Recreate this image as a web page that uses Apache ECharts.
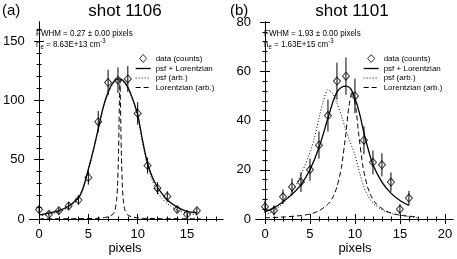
<!DOCTYPE html>
<html><head><meta charset="utf-8">
<script src="https://cdn.jsdelivr.net/npm/echarts@6/dist/echarts.min.js"></script>
<style>html,body{margin:0;padding:0;background:#fff}#c{width:457px;height:259px}</style>
</head><body><div id="c"></div>
<script>
// ---- panel (a) shot 1106 ----
const aX    = [0,1,2,3,4,5,6,7,8,9,10,11,12,13,14,15,16];
const aY    = [8,4,7,11,16,35,82,115,117,118,89,45,26,19,8,4,7];
const aErr  = [2.8,2,2.6,3.3,4,6,9,10.7,10.8,10.9,9.4,6.7,5.1,4.4,2.8,2,2.6];
const aFit  = [[0,3.5],[1,5],[2,7],[3,11],[4,18],[4.5,27],[5,42],[5.5,58],[6,76],[6.5,94],[7,107],[7.5,115],[8,118],[8.5,117],[9,111],[9.5,101],[10,88],[10.5,66],[11,47],[11.5,35],[12,27],[12.5,21],[13,16],[14,10],[15,6.5],[16,5.3]];
const aPsf  = [[0,2.5],[1,4],[2,6],[3,10],[4,17],[4.5,26],[5,41],[5.5,57],[6,75],[6.5,93],[7,106],[7.5,114],[8,117],[8.5,116],[9,110],[9.5,100],[10,86],[10.5,64],[11,45],[11.5,32],[12,23],[12.5,17],[13,13],[14,7.5],[15,5],[16,3.5]];
const aLor  = [[0,0.1],[4,0.3],[6,0.6],[7,1.8],[7.5,4],[7.7,7.5],[7.85,15],[7.95,27],[8.05,52],[8.1,75],[8.15,100],[8.2,117],[8.25,100],[8.3,75],[8.35,52],[8.45,27],[8.55,15],[8.7,7.5],[8.9,4],[9.4,1.8],[10.4,0.6],[12.4,0.3],[16.4,0.1]];
const aXTicks = [0,5,10,15];
const aXMinor = [0,1,2,3,4,5,6,7,8,9,10,11,12,13,14,15,16,17,18];
const aYTicks = [0,50,100,150];
const aYMinor = [0,10,20,30,40,50,60,70,80,90,100,110,120,130,140,150,160];

// ---- panel (b) shot 1101 ----
const bX    = [0,1,2,3,4,5,6,7,8,9,10,11,12,13,14,15,16];
const bY    = [5,3.5,9,13,15,20,30,42,56,58,50,32,23,22,15,4,8.5];
const bErr  = [2.5,2,3,3.5,4,4.5,5.5,6.5,7.5,7.6,7,5.7,4.8,4.7,3.9,2,2.9];
const bFit  = [[0,3],[1,4.5],[2,7],[3,10],[4,14],[5,20],[6,29],[7,41],[7.5,47],[8,51.5],[8.5,53.5],[9,54],[9.5,53],[10,49],[10.5,43],[11,35],[11.5,28],[12,22],[13,15],[14,10.5],[15,7.5],[16,5.5]];
const bPsf  = [[0,1.6],[1,3.4],[2,6.5],[3,11],[4,18],[5,27],[5.5,33],[6,41],[6.5,48],[7,52.5],[7.5,51],[8,47],[8.5,42],[9,36],[9.5,31],[10,26],[10.5,19],[11,13],[11.5,9],[12,6.5],[13,3.7],[14,2.3],[15,1.5],[16,1],[17,0.5]];
const bLor  = [[0,0.5],[2,0.8],[4,1.4],[5,2],[6,3.3],[7,6],[7.5,8.5],[8,13],[8.5,21],[9,35],[9.3,45],[9.7,52],[10.1,45],[10.4,35],[10.9,21],[11.4,13],[11.9,8.5],[12.4,6],[13.4,3.3],[14.4,2],[15.4,1.4],[17,0.8]];
const bXTicks = [0,5,10,15,20];
const bXMinor = [0,1,2,3,4,5,6,7,8,9,10,11,12,13,14,15,16,17,18,19,20];
const bYTicks = [0,20,40,60,80];
const bYMinor = [0,4,8,12,16,20,24,28,32,36,40,44,48,52,56,60,64,68,72,76,80];

const names = ['data (counts)','psf + Lorentzian','psf (arb.)','Lorentzian (arb.)'];
const FONT = 'Liberation Sans, Arial, sans-serif';
const K = '#000';
const NONE = 'rgba(0,0,0,0)';
const dashTypes = ['solid',[1,2],[5,3]];

function xAxes(g, min, max, major, minor){
  const base = {gridIndex:g, type:'value', min:min, max:max, splitLine:{show:false}};
  return [
    Object.assign({}, base, {position:'bottom', axisLine:{show:true,lineStyle:{color:K,width:1}},
      axisTick:{show:true,inside:true,length:5,customValues:major,lineStyle:{color:K}},
      axisLabel:{show:true,customValues:major,color:K,fontSize:13,fontFamily:FONT,margin:9}}),
    Object.assign({}, base, {position:'bottom', axisLine:{show:false},
      axisTick:{show:true,inside:true,length:2.5,customValues:minor,lineStyle:{color:K}}, axisLabel:{show:false}}),
    Object.assign({}, base, {position:'top', axisLine:{show:true,lineStyle:{color:K,width:1}},
      axisTick:{show:true,inside:true,length:5,customValues:major,lineStyle:{color:K}}, axisLabel:{show:false}}),
    Object.assign({}, base, {position:'top', axisLine:{show:false},
      axisTick:{show:true,inside:true,length:2.5,customValues:minor,lineStyle:{color:K}}, axisLabel:{show:false}})
  ];
}
function yAxes(g, min, max, major, minor){
  const base = {gridIndex:g, type:'value', min:min, max:max, splitLine:{show:false}};
  return [
    Object.assign({}, base, {position:'left', axisLine:{show:true,lineStyle:{color:K,width:1}},
      axisTick:{show:true,inside:true,length:5,customValues:major,lineStyle:{color:K}},
      axisLabel:{show:true,customValues:major,color:K,fontSize:13,fontFamily:FONT,margin:5}}),
    Object.assign({}, base, {position:'left', axisLine:{show:false},
      axisTick:{show:true,inside:true,length:2.5,customValues:minor,lineStyle:{color:K}}, axisLabel:{show:false}}),
    Object.assign({}, base, {position:'right', axisLine:{show:true,lineStyle:{color:K,width:1}},
      axisTick:{show:true,inside:true,length:5,customValues:major,lineStyle:{color:K}}, axisLabel:{show:false}}),
    Object.assign({}, base, {position:'right', axisLine:{show:false},
      axisTick:{show:true,inside:true,length:2.5,customValues:minor,lineStyle:{color:K}}, axisLabel:{show:false}})
  ];
}
function lineSeries(name, xi, data, width, type, smooth){
  return {type:'line', name:name, xAxisIndex:xi, yAxisIndex:xi, data:data, smooth:smooth, symbol:'none',
    color:K, itemStyle:{color:NONE, borderWidth:0},
    lineStyle:{color:K, width:width, type:type}, z:5};
}
function panelSeries(g, xs, ys, errs, fit, psf, lor){
  const xi = g*4;
  const pts = xs.map((x,i)=>[x, ys[i], errs[i]]);
  return [
    {type:'custom', name:'err'+g, xAxisIndex:xi, yAxisIndex:xi, data:pts, silent:true, z:3,
      renderItem:function(params, api){
        const x=api.value(0), y=api.value(1), e=api.value(2);
        const p1=api.coord([x,y-e]), p2=api.coord([x,y+e]);
        return {type:'line', shape:{x1:p1[0],y1:p1[1],x2:p2[0],y2:p2[1]}, style:{stroke:K,lineWidth:1}};
      }},
    {type:'scatter', name:names[0], xAxisIndex:xi, yAxisIndex:xi, data:pts.map(p=>[p[0],p[1]]),
      symbol:'diamond', symbolSize:[7,8], z:4, color:K,
      itemStyle:{color:NONE, borderColor:K, borderWidth:1}},
    lineSeries(names[1], xi, fit, 1.3, dashTypes[0], 0.3),
    lineSeries(names[2], xi, psf, 1, dashTypes[1], 0.3),
    lineSeries(names[3], xi, lor, 1, dashTypes[2], 0.2)
  ];
}
function legend(left){
  const lineItem = (i, w) => ({name:names[i], itemStyle:{color:NONE, borderWidth:0, borderColor:NONE},
    lineStyle:{color:K, width:w, type:dashTypes[i-1]}});
  return {left:left, top:54, orient:'vertical', itemWidth:15, itemHeight:8, itemGap:1.5,
    selectedMode:false, padding:0,
    textStyle:{fontSize:8, color:K, fontFamily:FONT, lineHeight:8},
    data:[{name:names[0], icon:'path://M0,-4L3.5,0L0,4L-3.5,0Z', itemStyle:{color:NONE,borderColor:K,borderWidth:1}},
          lineItem(1,1.3), lineItem(2,1), lineItem(3,1)]};
}
function txt(x,y,text,size,align,sy){
  return {type:'text', x:x, y:y, scaleY:sy||1, style:{text:text, fontSize:size, fontFamily:FONT, fill:K,
    align:align||'left', verticalAlign:'middle'}};
}
function neText(x,y,val){
  return {type:'text', x:x, y:y, scaleY:1.15, style:{
    text:'{m|n}{s|e}{m| = '+val+' cm}{p|-3}', fontFamily:FONT, fill:K, verticalAlign:'middle',
    rich:{m:{fontSize:8, lineHeight:11, fontFamily:FONT, fill:K},
          s:{fontSize:6, verticalAlign:'bottom', lineHeight:11, fontFamily:FONT, fill:K},
          p:{fontSize:6, verticalAlign:'top', lineHeight:11, fontFamily:FONT, fill:K}}}};
}

const chart = echarts.init(document.getElementById('c'), null, {renderer:'canvas'});
chart.setOption({
  animation:false,
  backgroundColor:'#fff',
  grid:[{left:27, top:22, width:196, height:197}, {left:256, top:22, width:197, height:197}],
  xAxis: xAxes(0,-0.95,18.65,aXTicks,aXMinor).concat(xAxes(1,-1,20.9,bXTicks,bXMinor)),
  yAxis: yAxes(0,0,166,aYTicks,aYMinor).concat(yAxes(1,0,80,bYTicks,bYMinor)),
  legend:[legend(135), legend(363)],
  series: panelSeries(0,aX,aY,aErr,aFit,aPsf,aLor).concat(panelSeries(1,bX,bY,bErr,bFit,bPsf,bLor)),
  graphic:[
    txt(2,11,'(a)',15), txt(125,11,'shot 1106',17,'center'),
    txt(230,11,'(b)',15), txt(352,11,'shot 1101',17,'center'),
    txt(125,248,'pixels',13,'center'), txt(355,248,'pixels',13,'center'),
    txt(36,33,'FWHM = 0.27 \u00b1 0.00 pixels',8,'left',1.15), neText(36,44,'8.63E+13'),
    txt(264,33,'FWHM = 1.93 \u00b1 0.00 pixels',8,'left',1.15), neText(264,44,'1.63E+15')
  ]
});
</script></body></html>
